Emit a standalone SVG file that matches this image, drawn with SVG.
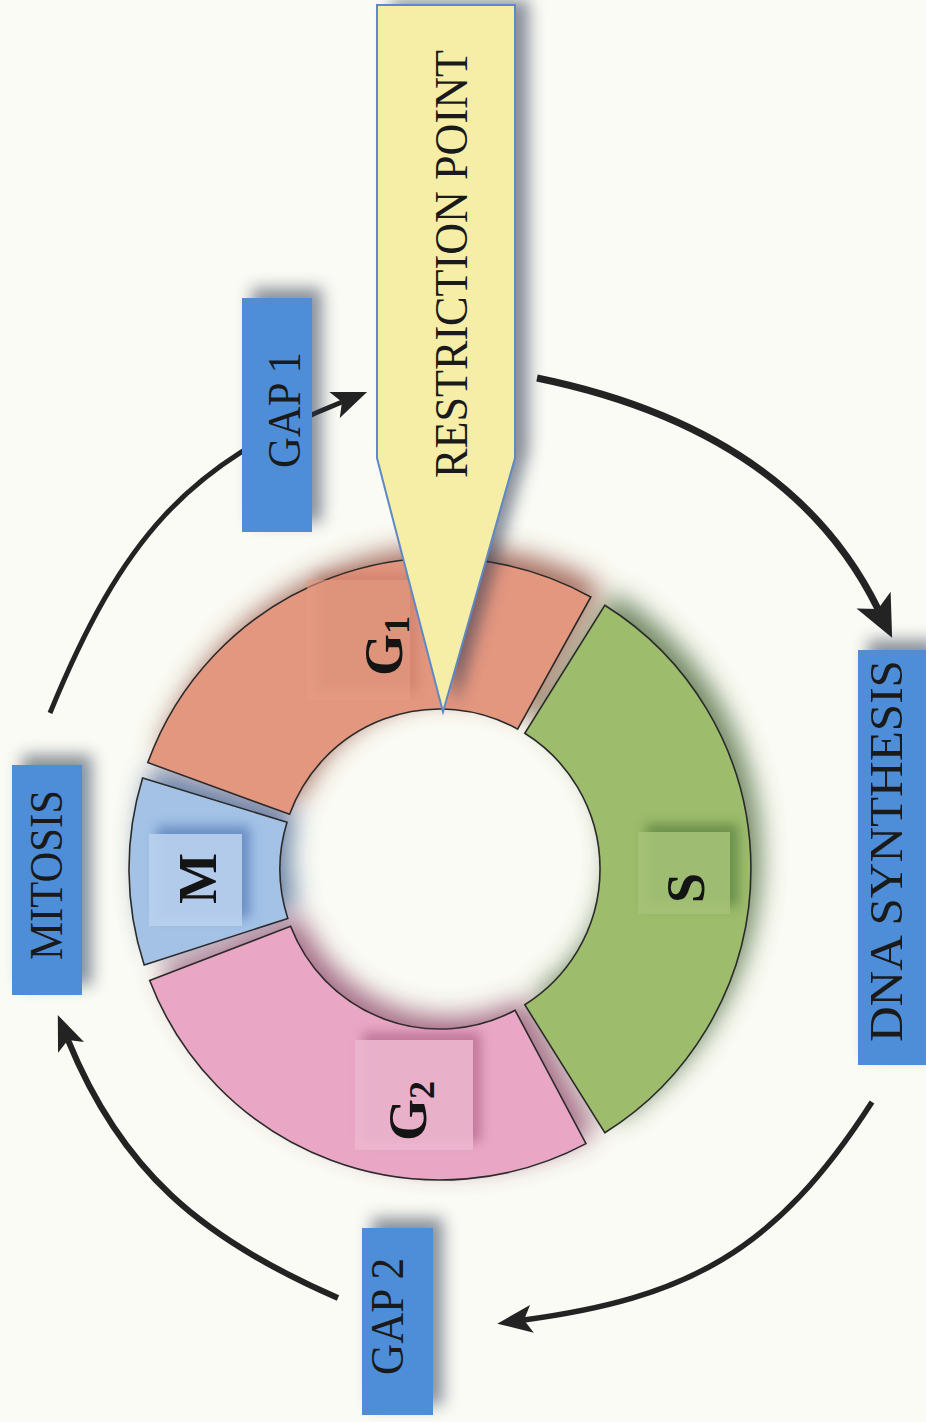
<svg xmlns="http://www.w3.org/2000/svg" width="926" height="1422" viewBox="0 0 926 1422">
<defs>
<style>
.lbl{font-family:"Liberation Serif","Times New Roman",serif;font-size:47px;fill:#1a1a1a}
.seg{font-family:"Liberation Serif","Times New Roman",serif;font-size:54px;font-weight:bold;fill:#141414}
.sub{font-size:36px}
.box{fill:#4E8ED8}
.shadow{fill:#2a3550;opacity:0.55;filter:url(#blur)}
.ring{stroke:#2b2b2b;stroke-width:1.6}
.arrow{fill:none;stroke:#232323;stroke-linecap:butt}
.tag{filter:url(#blur2)}
</style>
<filter id="blur" x="-50%" y="-50%" width="200%" height="200%"><feGaussianBlur stdDeviation="8"/></filter>
<filter id="blur2" x="-50%" y="-50%" width="200%" height="200%"><feGaussianBlur stdDeviation="6"/></filter>
<filter id="blur3" x="-50%" y="-50%" width="200%" height="200%"><feGaussianBlur stdDeviation="13"/></filter>
<marker id="headL" markerUnits="userSpaceOnUse" markerWidth="44" markerHeight="40" refX="10" refY="19" orient="auto" overflow="visible"><path d="M0,0 L42,19 L0,38 L10,19 Z" fill="#232323"/></marker>
<marker id="headS" markerUnits="userSpaceOnUse" markerWidth="36" markerHeight="30" refX="8" refY="14" orient="auto" overflow="visible"><path d="M0,0 L35,14 L0,28 L8,14 Z" fill="#232323"/></marker>
</defs>
<rect x="0" y="0" width="926" height="1422" fill="#FAFBF4"/>

<g id="ring-shadow" opacity="0.75" filter="url(#blur3)">
<path d="M 614 593 A 311 311 0 0 1 614 1121 L 534 993 A 160 160 0 0 0 534 721 Z" fill="#3f5f2e"/>
<path d="M 596 1132 A 311 311 0 0 1 160 969 L 301 915 A 160 160 0 0 0 525 998 Z" fill="#8a3f64"/>
<path d="M 154 953 A 311 311 0 0 1 153 766 L 297 810 A 160 160 0 0 0 298 906 Z" fill="#34558a"/>
<path d="M 158 751 A 311 311 0 0 1 601 585 L 528 717 A 160 160 0 0 0 300 802 Z" fill="#8a3f2e"/>
</g>

<g id="node-S">
<path class="ring" d="M 604.8 605.3 A 311 311 0 0 1 604.8 1132.7 L 524.8 1004.7 A 160 160 0 0 0 524.8 733.3 Z" fill="#9DBC6C"/>
<rect class="tag" x="646" y="824" width="92" height="82" fill="#3f6a2e" opacity="0.55"/>
<rect x="638" y="832" width="92" height="82" fill="#A5C277" opacity="0.9"/>
<text class="seg" transform="translate(704,903) rotate(-90)">S</text>
</g>

<g id="node-G2">
<path class="ring" d="M 586.0 1143.6 A 311 311 0 0 1 149.7 980.5 L 290.6 926.3 A 160 160 0 0 0 515.1 1010.3 Z" fill="#E9A7C5"/>
<rect class="tag" x="363" y="1032" width="118" height="110" fill="#9a4a72" opacity="0.5"/>
<rect x="355" y="1040" width="118" height="110" fill="#EDB6CF" opacity="0.9"/>
<text class="seg" transform="translate(426,1141) rotate(-90)">G<tspan class="sub" dy="8">2</tspan></text>
</g>

<g id="node-M">
<path class="ring" d="M 144.2 965.1 A 311 311 0 0 1 142.6 778.1 L 287.0 822.2 A 160 160 0 0 0 287.8 918.4 Z" fill="#A3C2E6"/>
<rect class="tag" x="157" y="826" width="93" height="92" fill="#3a64a8" opacity="0.55"/>
<rect x="149" y="834" width="93" height="92" fill="#B9D0EE" opacity="0.92"/>
<text class="seg" transform="translate(216,904) rotate(-90)">M</text>
</g>

<g id="node-G1">
<path class="ring" d="M 147.8 762.6 A 311 311 0 0 1 590.8 597.0 L 517.6 729.1 A 160 160 0 0 0 289.6 814.3 Z" fill="#E4977F"/>
<rect class="tag" x="315" y="572" width="103" height="120" fill="#9a4a3a" opacity="0.22"/>
<rect x="307" y="580" width="103" height="120" fill="#E69C84" opacity="0.6"/>
<text class="seg" transform="translate(402,676) rotate(-90)">G<tspan class="sub" dy="7">1</tspan></text>
</g>

<g id="connectors">
<path class="arrow" stroke-width="7" d="M 537 378 Q 790 430 878 609" marker-end="url(#headL)"/>
<path class="arrow" stroke-width="5.5" d="M 872 1102 C 775 1253, 686 1298, 524 1320" marker-end="url(#headS)"/>
<path class="arrow" stroke-width="6" d="M 338 1298 C 200 1238, 121 1170, 68 1040" marker-end="url(#headS)"/>
<path class="arrow" stroke-width="5" d="M 50 713 C 122 538, 187 464, 342 402" marker-end="url(#headS)"/>
</g>

<g id="node-restriction-point">
<polygon class="shadow" points="391,0 529,0 529,450 457,704 391,450" opacity="0.35"/>
<polygon points="377,5 515,5 515,458 443,712 377,458" fill="#F6EEA6" stroke="#5E88C6" stroke-width="2"/>
<text class="lbl" transform="translate(467,478) rotate(-90)" textLength="428" lengthAdjust="spacingAndGlyphs">RESTRICTION POINT</text>
</g>

<g id="node-gap1">
<rect class="shadow" x="252" y="288" width="70" height="234"/>
<rect class="box" x="242" y="298" width="70" height="234"/>
<text class="lbl" transform="translate(300,468) rotate(-90)" textLength="116" lengthAdjust="spacingAndGlyphs">GAP 1</text>
</g>

<g id="node-mitosis">
<rect class="shadow" x="22" y="755" width="70" height="230"/>
<rect class="box" x="12" y="765" width="70" height="230"/>
<text class="lbl" transform="translate(62,960) rotate(-90)" textLength="170" lengthAdjust="spacingAndGlyphs">MITOSIS</text>
</g>

<g id="node-dna-synthesis">
<rect class="shadow" x="868" y="640" width="68" height="415"/>
<rect class="box" x="858" y="650" width="70" height="415"/>
<text class="lbl" transform="translate(902,1042) rotate(-90)" textLength="382" lengthAdjust="spacingAndGlyphs">DNA SYNTHESIS</text>
</g>

<g id="node-gap2">
<rect class="shadow" x="372" y="1218" width="71" height="187"/>
<rect class="box" x="362" y="1228" width="71" height="187"/>
<text class="lbl" transform="translate(403,1375) rotate(-90)" textLength="117" lengthAdjust="spacingAndGlyphs">GAP 2</text>
</g>
</svg>
